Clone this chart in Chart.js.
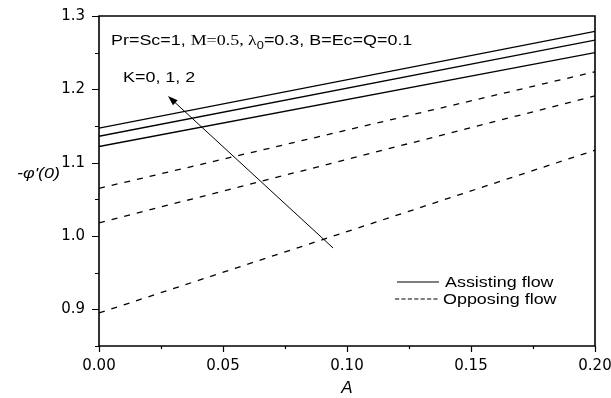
<!DOCTYPE html>
<html>
<head>
<meta charset="utf-8">
<script src="https://cdn.jsdelivr.net/npm/chart.js@4/dist/chart.umd.min.js"></script>
<style>
html,body{margin:0;padding:0;background:#fff;}
#wrap{width:611px;height:398px;position:relative;}
</style>
</head>
<body>
<div id="wrap"><canvas id="c" width="611" height="398"></canvas></div>
<script>
// ---- data ----
const xValues = [0.00, 0.20];
const assistingK0 = [1.122, 1.250];
const assistingK1 = [1.136, 1.267];
const assistingK2 = [1.147, 1.279];
const opposingK0 = [0.895, 1.117];
const opposingK1 = [1.018, 1.191];
const opposingK2 = [1.065, 1.224];
const xTickValues = [0.00, 0.05, 0.10, 0.15, 0.20];
const yTickValues = [0.9, 1.0, 1.1, 1.2, 1.3];
const arrowFrom = {x: 0.0944, y: 0.9836};
const arrowTo = {x: 0.0278, y: 1.1909};
const paramText = ['Pr=Sc=1, ', 'M=0.5, \u03bb', '0', '=0.3, B=Ec=Q=0.1'];
const kText = 'K=0, 1, 2';
const legendLabels = ['Assisting flow', 'Opposing flow'];
const yTitle = "-\u03c6'(0)";
const xTitle = 'A';

function pts(ys){ return xValues.map((x,i)=>({x:x, y:ys[i]})); }

const solid = {borderColor:'#000', borderWidth:1.3, pointRadius:0, fill:false, tension:0};
const dashed = Object.assign({}, solid, {borderDash:[6,7]});

const datasets = [
  Object.assign({label:'Assisting K=0', data:pts(assistingK0)}, solid),
  Object.assign({label:'Assisting K=1', data:pts(assistingK1)}, solid),
  Object.assign({label:'Assisting K=2', data:pts(assistingK2)}, solid),
  Object.assign({label:'Opposing K=0', data:pts(opposingK0)}, dashed),
  Object.assign({label:'Opposing K=1', data:pts(opposingK1)}, dashed),
  Object.assign({label:'Opposing K=2', data:pts(opposingK2)}, dashed)
];

const SX = 1.28; // horizontal text stretch seen in reference
function stretchedText(ctx, parts, x, y){
  ctx.save();
  ctx.translate(x, y);
  ctx.scale(SX, 1);
  let cx = 0;
  for (const p of parts){
    ctx.font = p.font;
    ctx.fillText(p.t, cx, p.dy || 0);
    cx += ctx.measureText(p.t).width;
  }
  ctx.restore();
}

const decor = {
  id:'decor',
  afterDraw(chart){
    const ctx = chart.ctx, a = chart.chartArea;
    const xs = chart.scales.x, ys = chart.scales.y;
    ctx.save();
    // frame
    ctx.strokeStyle = '#000';
    ctx.lineWidth = 1.6;
    ctx.setLineDash([]);
    ctx.beginPath();
    ctx.rect(a.left, a.top, a.right - a.left, a.bottom - a.top);
    ctx.stroke();
    // ticks
    ctx.lineWidth = 1.2;
    ctx.beginPath();
    xs.ticks.forEach(t=>{
      const px = Math.round(xs.getPixelForValue(t.value)) + 0.5;
      const major = xTickValues.some(v=>Math.abs(v - t.value) < 1e-6);
      ctx.moveTo(px, a.bottom);
      ctx.lineTo(px, a.bottom + (major ? 6 : 3));
    });
    ys.ticks.forEach(t=>{
      const py = Math.round(ys.getPixelForValue(t.value)) + 0.5;
      const major = yTickValues.some(v=>Math.abs(v - t.value) < 1e-6);
      ctx.moveTo(a.left, py);
      ctx.lineTo(a.left - (major ? 7 : 4), py);
    });
    ctx.stroke();

    // arrow
    const x1 = xs.getPixelForValue(arrowFrom.x), y1 = ys.getPixelForValue(arrowFrom.y);
    const x2 = xs.getPixelForValue(arrowTo.x), y2 = ys.getPixelForValue(arrowTo.y);
    const ang = Math.atan2(y2 - y1, x2 - x1);
    const hl = 10, hw = 3.5;
    ctx.lineWidth = 1;
    ctx.beginPath();
    ctx.moveTo(x1, y1);
    ctx.lineTo(x2 - Math.cos(ang)*hl*0.8, y2 - Math.sin(ang)*hl*0.8);
    ctx.stroke();
    ctx.fillStyle = '#000';
    ctx.beginPath();
    ctx.moveTo(x2, y2);
    ctx.lineTo(x2 - Math.cos(ang)*hl + Math.sin(ang)*hw, y2 - Math.sin(ang)*hl - Math.cos(ang)*hw);
    ctx.lineTo(x2 - Math.cos(ang)*hl - Math.sin(ang)*hw, y2 - Math.sin(ang)*hl + Math.cos(ang)*hw);
    ctx.closePath();
    ctx.fill();

    // texts
    ctx.fillStyle = '#000';
    ctx.textBaseline = 'alphabetic';
    ctx.textAlign = 'left';
    const sans = '14px "Liberation Sans", Arial, sans-serif';
    const serif = '14px "Liberation Serif", "Times New Roman", serif';
    stretchedText(ctx, [
      {t:paramText[0], font:sans},
      {t:paramText[1], font:serif},
      {t:paramText[2], font:'10px "Liberation Sans", Arial, sans-serif', dy:4},
      {t:paramText[3], font:sans}
    ], 111, 45);
    stretchedText(ctx, [{t:kText, font:sans}], 123, 82);

    // legend
    const lx1 = 397, lx2 = 439;
    const ly = [282, 299];
    ctx.lineWidth = 1.2;
    ctx.beginPath();
    ctx.setLineDash([]);
    ctx.moveTo(lx1, ly[0]); ctx.lineTo(lx2, ly[0]);
    ctx.stroke();
    ctx.beginPath();
    ctx.setLineDash([4.2, 2.2]);
    ctx.moveTo(lx1 - 2, ly[1]); ctx.lineTo(lx2, ly[1]);
    ctx.stroke();
    ctx.setLineDash([]);
    stretchedText(ctx, [{t:legendLabels[0], font:sans}], 445, 287);
    stretchedText(ctx, [{t:legendLabels[1], font:sans}], 443, 304);

    // y title (horizontal)
    stretchedText(ctx, [{t:yTitle, font:'italic 14px "Liberation Sans", Arial, sans-serif'}], 17, 178);
    ctx.restore();
  }
};

new Chart(document.getElementById('c'), {
  type:'line',
  data:{datasets:datasets},
  plugins:[decor],
  options:{
    responsive:false,
    animation:false,
    events:[],
    layout:{padding:{left:0, right:16, top:16, bottom:0}},
    plugins:{legend:{display:false}, tooltip:{enabled:false}},
    scales:{
      x:{
        type:'linear', min:0, max:0.2,
        afterFit(s){ s.height = 52; s.paddingLeft = 0; s.paddingRight = 0; },
        grid:{display:false, drawTicks:false},
        border:{display:false},
        ticks:{
          stepSize:0.025, padding:11, color:'#000', maxRotation:0, autoSkip:false,
          font:{family:'"DejaVu Sans", sans-serif', size:15},
          callback:(v)=> xTickValues.some(t=>Math.abs(t - v) < 1e-6) ? v.toFixed(2) : ''
        },
        title:{display:true, text:xTitle, color:'#000', padding:{top:2, bottom:0},
          font:{family:'"Liberation Sans", Arial, sans-serif', size:17, style:'italic'}}
      },
      y:{
        type:'linear', min:0.85, max:1.3,
        afterFit(s){ s.width = 99; s.paddingTop = 0; s.paddingBottom = 0; },
        grid:{display:false, drawTicks:false},
        border:{display:false},
        ticks:{
          stepSize:0.05, padding:14, color:'#000', autoSkip:false,
          font:{family:'"DejaVu Sans", sans-serif', size:15},
          callback:(v)=> yTickValues.some(t=>Math.abs(t - v) < 1e-6) ? v.toFixed(1) : ''
        }
      }
    }
  }
});
</script>
</body>
</html>
